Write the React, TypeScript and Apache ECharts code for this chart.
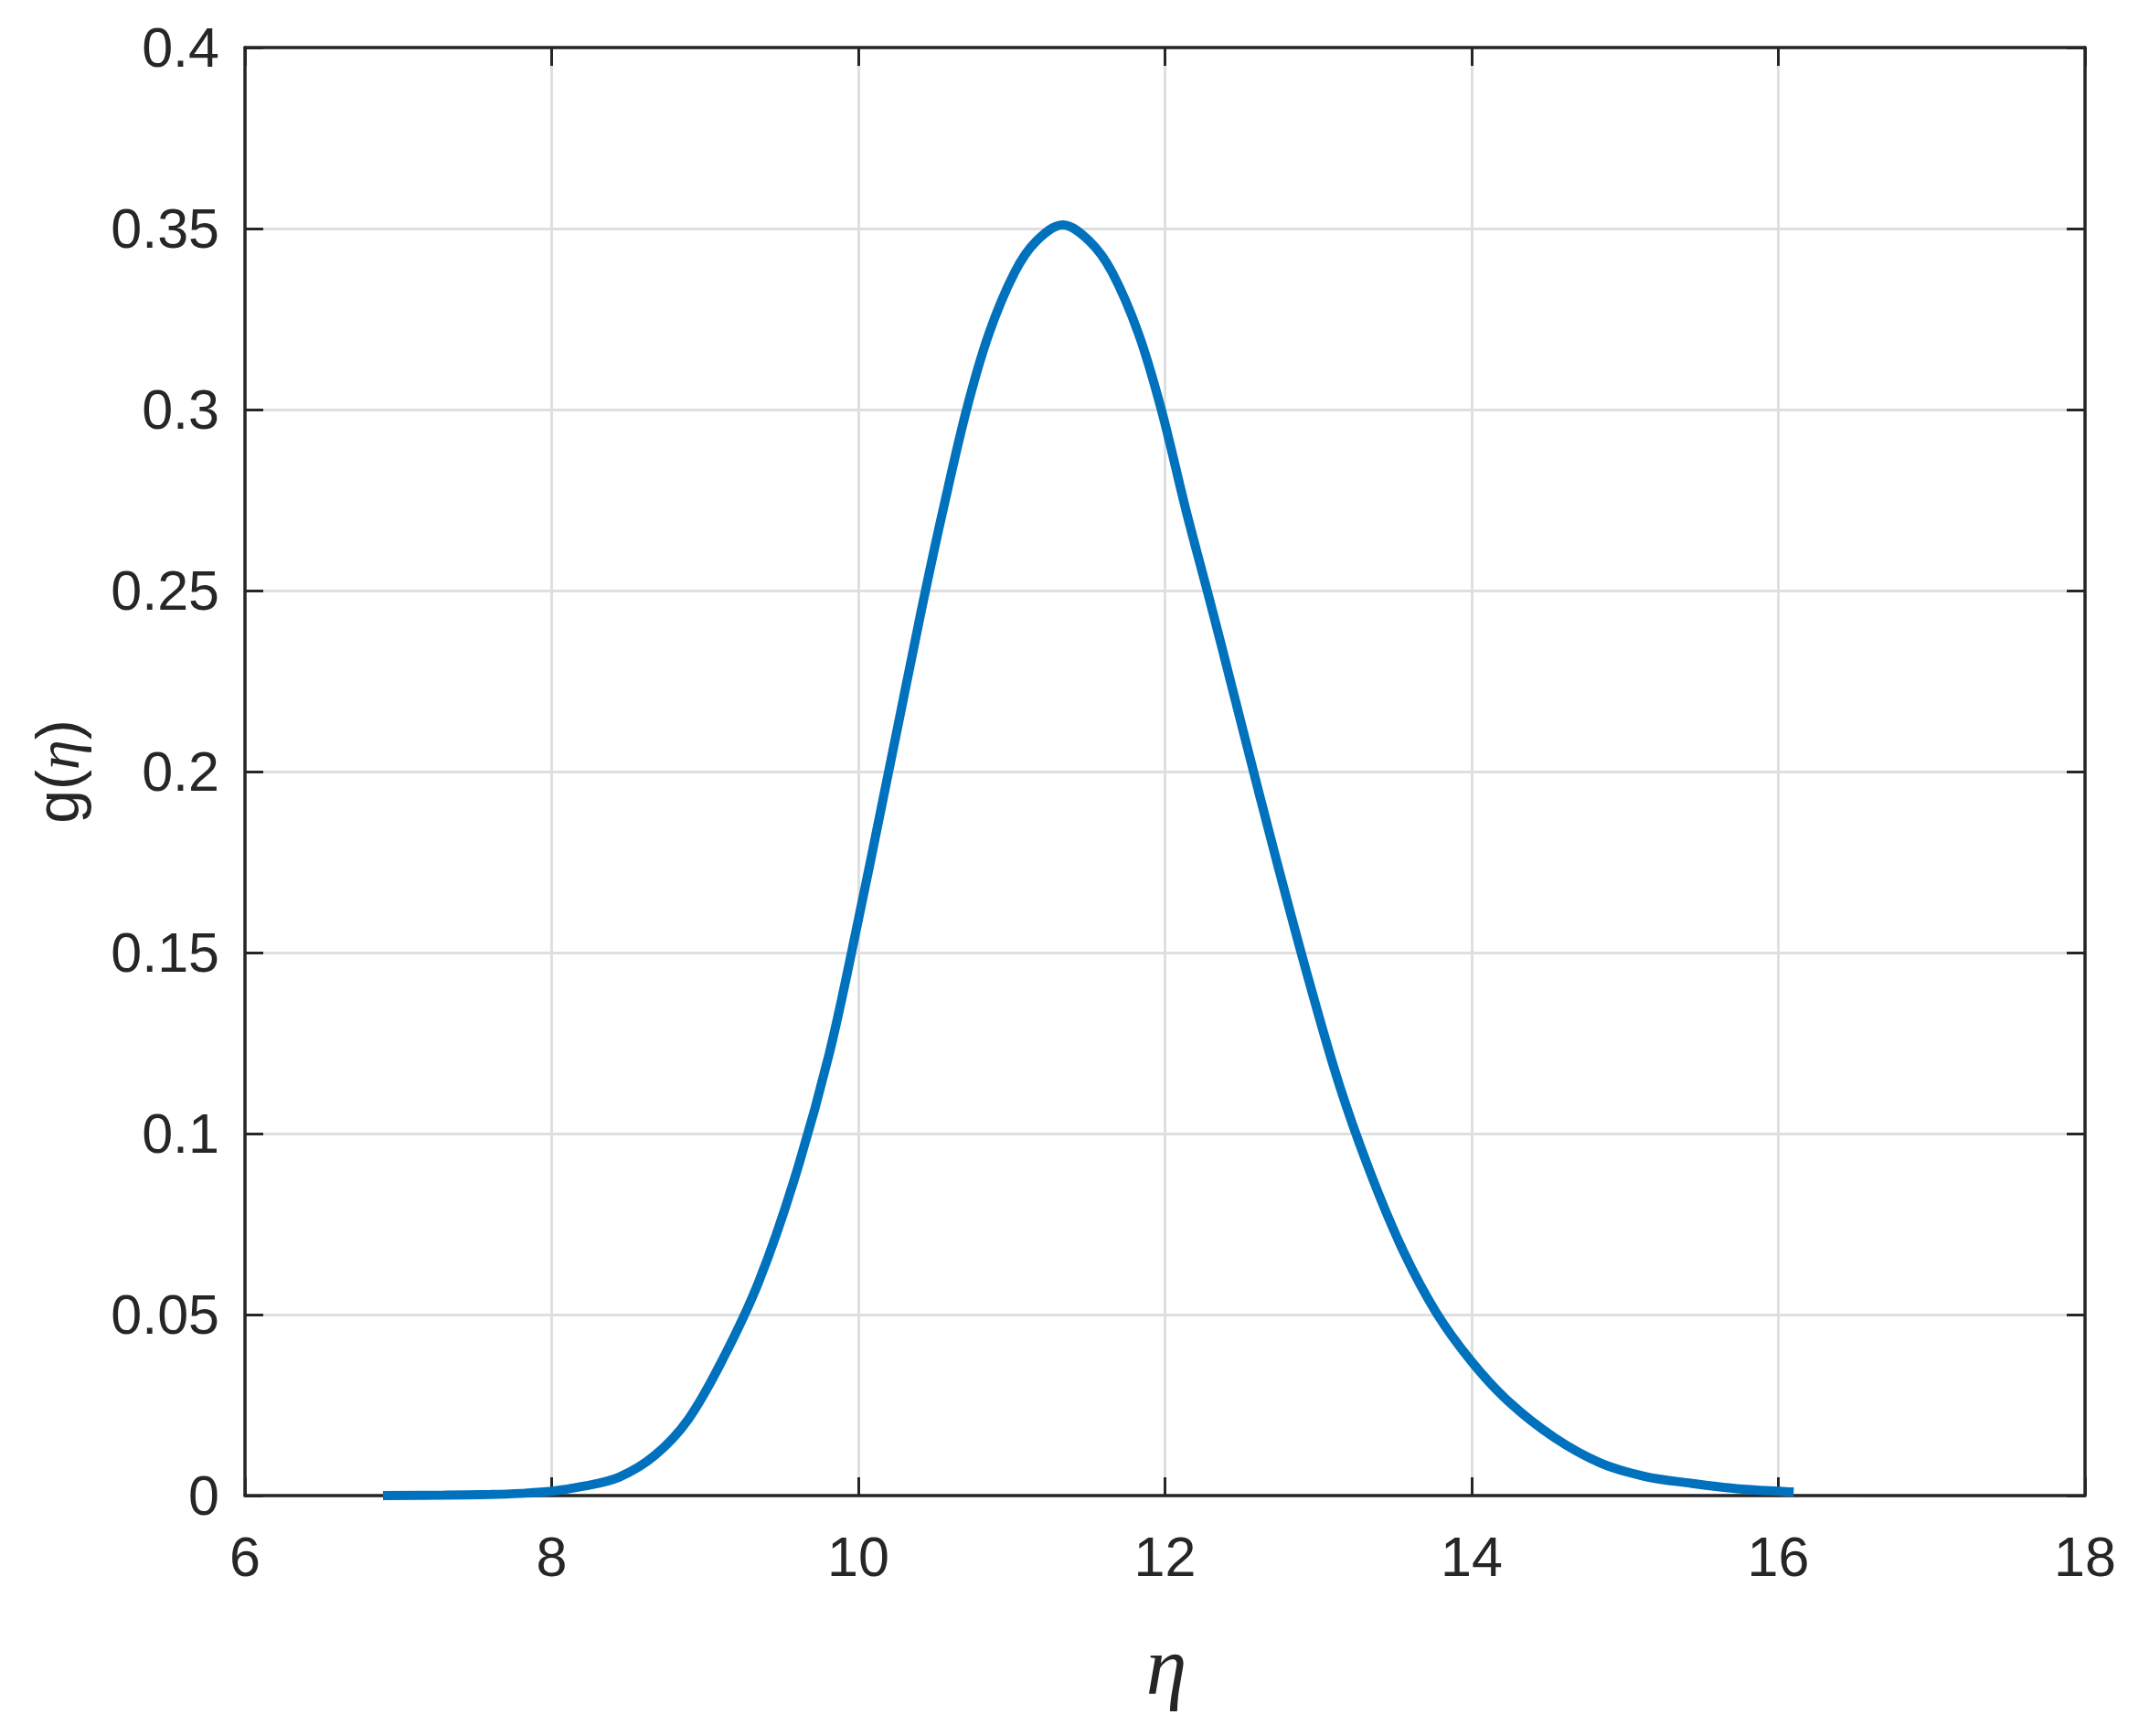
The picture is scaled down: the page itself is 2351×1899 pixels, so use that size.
import React, { useEffect, useRef } from "react";
import * as echarts from "echarts";

const etaValues = [
  6.9, 7.3, 7.6, 7.8, 8.0, 8.21, 8.44, 8.67, 8.89, 9.12, 9.35, 9.58, 9.81, 10.0,
  10.15, 10.26, 10.37, 10.444, 10.543, 10.706, 10.852, 11.021, 11.16, 11.333,
  11.508, 11.654, 11.827, 11.976, 12.135, 12.275, 12.364, 12.52, 12.73, 12.94,
  13.14, 13.35, 13.56, 13.77, 14.0, 14.24, 14.54, 14.84, 15.13, 15.43, 15.73,
  16.05, 16.1,
];
const gValues = [
  0.0, 0.0001, 0.0003, 0.0006, 0.0012, 0.0026, 0.0051, 0.011, 0.021, 0.038,
  0.059, 0.087, 0.122, 0.159, 0.19, 0.213, 0.236, 0.2512, 0.2705, 0.3, 0.321,
  0.338, 0.3465, 0.351, 0.3465, 0.338, 0.321, 0.3, 0.2725, 0.25, 0.2355, 0.2095,
  0.175, 0.142, 0.113, 0.088, 0.067, 0.0505, 0.037, 0.026, 0.016, 0.009, 0.0053,
  0.0034, 0.0019, 0.0011, 0.001,
];
const xTicks = { min: 6, max: 18, interval: 2 };
const yTicks = { min: 0, max: 0.4, interval: 0.05 };

const AXIS = "#262626";
const GRID = "#dfdfdf";
const FONT = "'Liberation Sans', Arial, Helvetica, sans-serif";

export default function App() {
  const ref = useRef<HTMLDivElement>(null);
  useEffect(() => {
    if (!ref.current) return;
    const chart = echarts.init(ref.current, undefined, { renderer: "svg" });
    const tick = { show: true, inside: true, length: 20, lineStyle: { color: AXIS, width: 3 } };
    const line = { show: true, onZero: false, lineStyle: { color: AXIS, width: 3.5 } };
    const split = { show: true, lineStyle: { color: GRID, width: 3 } };
    chart.setOption({
      animation: false,
      backgroundColor: "#ffffff",
      grid: { left: 268, top: 52, right: 70, bottom: 263, containLabel: false },
      xAxis: [
        {
          type: "value",
          ...xTicks,
          position: "bottom",
          axisLine: line,
          axisTick: tick,
          splitLine: split,
          axisLabel: { fontSize: 61, color: AXIS, fontFamily: FONT, margin: 36 },
        },
        {
          type: "value",
          ...xTicks,
          position: "top",
          axisLine: line,
          axisTick: tick,
          splitLine: { show: false },
          axisLabel: { show: false },
        },
      ],
      yAxis: [
        {
          type: "value",
          ...yTicks,
          position: "left",
          axisLine: line,
          axisTick: tick,
          splitLine: split,
          axisLabel: {
            fontSize: 61,
            color: AXIS,
            fontFamily: FONT,
            margin: 28,
            formatter: (v: number) => String(+v.toFixed(2)),
          },
        },
        {
          type: "value",
          ...yTicks,
          position: "right",
          axisLine: line,
          axisTick: tick,
          splitLine: { show: false },
          axisLabel: { show: false },
        },
      ],
      series: [
        {
          type: "line",
          xAxisIndex: 0,
          yAxisIndex: 0,
          data: etaValues.map((x, i) => [x, gValues[i]]),
          smooth: 0.35,
          showSymbol: false,
          lineStyle: { color: "#0072BD", width: 10 },
          z: 5,
        },
      ],
      graphic: [
        {
          type: "text",
          x: 1276,
          y: 1822,
          style: {
            text: "η",
            font: "italic 90px 'Liberation Serif', 'Times New Roman', serif",
            fill: AXIS,
            align: "center",
            verticalAlign: "middle",
          },
        },
        {
          type: "text",
          x: 63,
          y: 844,
          rotation: Math.PI / 2,
          style: {
            text: "{n|g(}{e|η}{n|)}",
            align: "center",
            verticalAlign: "middle",
            fill: AXIS,
            rich: {
              n: { fontSize: 66, fontFamily: FONT, fill: AXIS },
              e: { fontSize: 66, fontFamily: "'Liberation Serif', serif", fontStyle: "italic", fill: AXIS },
            },
          },
        },
      ],
    });
    return () => chart.dispose();
  }, []);
  return (
    <div
      ref={ref}
      style={{ position: "fixed", left: 0, top: 0, width: 2351, height: 1899, background: "#fff" }}
    />
  );
}
